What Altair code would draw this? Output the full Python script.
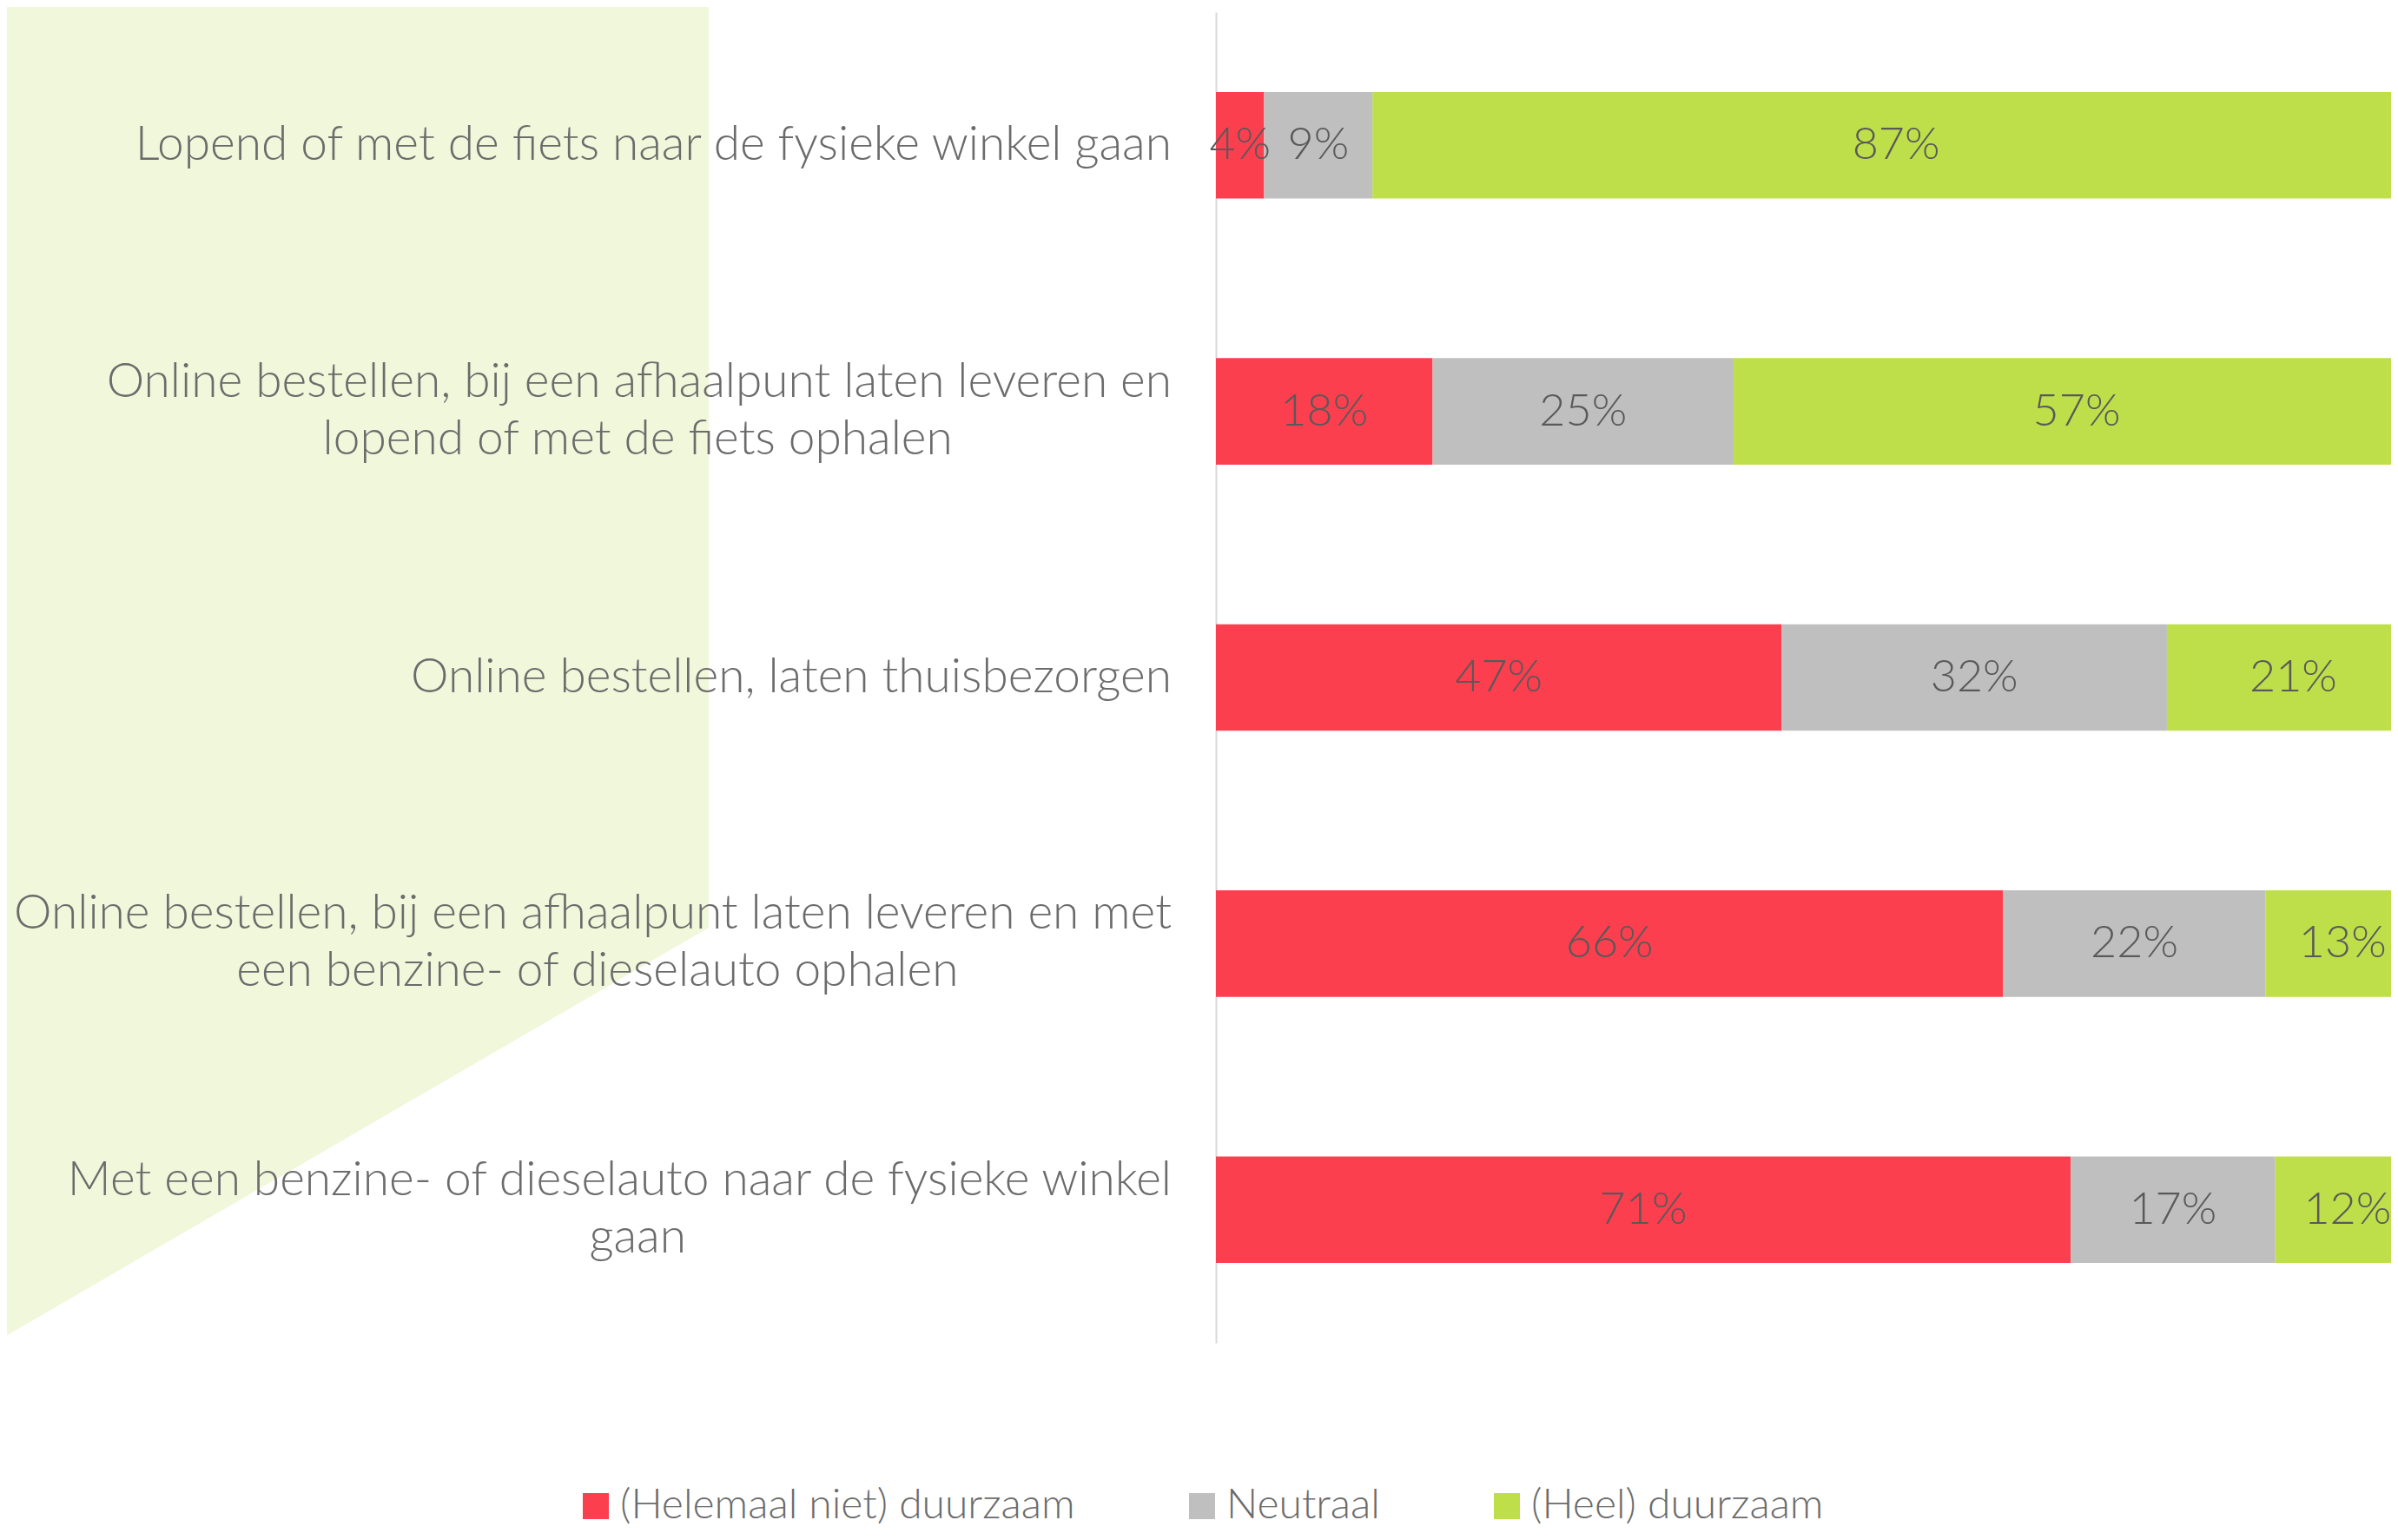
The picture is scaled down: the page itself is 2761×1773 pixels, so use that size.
import altair as alt
import pandas as pd

# ---------------- data ----------------
categories = [
    "Lopend of met de fiets naar de fysieke winkel gaan",
    "Online bestellen, bij een afhaalpunt laten leveren en lopend of met de fiets ophalen",
    "Online bestellen, laten thuisbezorgen",
    "Online bestellen, bij een afhaalpunt laten leveren en met een benzine- of dieselauto ophalen",
    "Met een benzine- of dieselauto naar de fysieke winkel gaan",
]
label_line1 = [
    "Lopend of met de fiets naar de fysieke winkel gaan",
    "Online bestellen, bij een afhaalpunt laten leveren en",
    "Online bestellen, laten thuisbezorgen",
    "Online bestellen, bij een afhaalpunt laten leveren en met",
    "Met een benzine- of dieselauto naar de fysieke winkel",
]
label_line2 = [
    "",
    "lopend of met de fiets ophalen",
    "",
    "een benzine- of dieselauto ophalen",
    "gaan",
]
series = ["(Helemaal niet) duurzaam", "Neutraal", "(Heel) duurzaam"]
# bar lengths (percent)
niet_duurzaam = [4.0, 18.0, 47.0, 65.4, 71.0]
neutraal = [9.0, 25.0, 32.0, 21.8, 17.0]
heel_duurzaam = [87.0, 57.0, 21.0, 12.8, 12.0]
# printed labels (percent)
niet_labels = [4, 18, 47, 66, 71]
neutraal_labels = [9, 25, 32, 22, 17]
heel_labels = [87, 57, 21, 13, 12]

# ---------------- styles ----------------
colors = ["#FC3F4F", "#BFBFBF", "#BEDF4A"]
bg_color = "#F0F7DA"
label_color = "#6B6B6B"
value_color = "#595959"
FONT = "Lato"
LABEL_SIZE = 55

W, H = 1353, 1532
X_MAX = 100 * W / 1386.0
TOTAL_H = 1752

rows = []
for i, c in enumerate(categories):
    for k, (vals, labs) in enumerate(zip([niet_duurzaam, neutraal, heel_duurzaam],
                                         [niet_labels, neutraal_labels, heel_labels])):
        rows.append({"cat": c, "series": series[k], "order": k,
                     "value": vals[i], "lbl": f"{labs[i]}%"})
df = pd.DataFrame(rows)

lab = pd.DataFrame({"cat": categories, "line1": label_line1, "line2": label_line2})

# decorative background shape (pixel geometry relative to the plot area)
bg = pd.DataFrame({"bx": [-1400, -584], "by": [-14, -14], "by2": [1528, 1054]})

xscale = alt.Scale(domain=[0, X_MAX], nice=False, zero=False)
yscale = alt.Scale(domain=categories, paddingInner=0.6, paddingOuter=0.3)

background = alt.Chart(bg).mark_area(color=bg_color, opacity=1).encode(
    x=alt.X("bx:Q", scale=None, axis=None),
    y=alt.Y("by:Q", scale=None, axis=None),
    y2="by2:Q",
)

base = alt.Chart(df).transform_stack(
    stack="value", as_=["x0", "x1"], groupby=["cat"], sort=[alt.SortField("order", order="ascending")]
).transform_calculate(
    mid="(datum.x0 + datum.x1) / 2"
)

bars = base.mark_bar(clip=True).encode(
    x=alt.X("x0:Q", scale=xscale, axis=None),
    x2="x1:Q",
    y=alt.Y(
        "cat:N", scale=yscale,
        axis=alt.Axis(title=None, labels=False, ticks=False, domain=True,
                      domainColor="#D9D9D9", domainWidth=2, grid=False),
    ),
    color=alt.Color(
        "series:N",
        scale=alt.Scale(domain=series, range=colors),
        legend=alt.Legend(
            orient="none", legendX=-738, legendY=1696, direction="horizontal",
            title=None, symbolType="square", symbolSize=900, symbolStrokeWidth=0,
            labelFontSize=48, labelFont=FONT, labelFontWeight=300, labelColor=label_color,
            columnPadding=122, labelOffset=4, labelLimit=2000,
        ),
    ),
    order=alt.Order("order:Q"),
)

values = base.mark_text(font=FONT, fontSize=52, fontWeight=300, color=value_color,
                        align="center", baseline="middle").encode(
    x=alt.X("mid:Q", scale=xscale, axis=None),
    y=alt.Y("cat:N", scale=yscale, axis=None),
    text="lbl:N",
)

def text_layer(filter_expr, field, dy, align, x_enc, extra_calc=None):
    ch = alt.Chart(lab).transform_filter(filter_expr)
    if extra_calc:
        ch = ch.transform_calculate(**extra_calc)
    return ch.mark_text(font=FONT, fontSize=LABEL_SIZE, fontWeight=300, color=label_color,
                        align=align, baseline="middle", dy=dy).encode(
        x=x_enc,
        y=alt.Y("cat:N", scale=yscale, axis=None),
        text=f"{field}:N",
    )

lab_single = text_layer("datum.line2 == ''", "line1", 0, "right", alt.value(-51))
lab_first = text_layer("datum.line2 != ''", "line1", -34, "right", alt.value(-51))
lab_second = text_layer(
    "datum.line2 != ''", "line2", 32, "center",
    alt.X("cx:Q", scale=None, axis=None),
    extra_calc={"cx": "-51 - length(datum.line1) * 11.6"},
)

chart = alt.layer(background, bars, values, lab_single, lab_first, lab_second).resolve_scale(
    x="independent", y="independent"
).properties(
    width=W, height=H,
    autosize=alt.AutoSizeParams(type="none"),
    padding={"left": 1392, "top": 6, "right": 0, "bottom": TOTAL_H - 6 - H},
    background="white",
).configure_view(stroke=None)

chart.save("out.html", embed_options={"renderer": "svg", "actions": False})
